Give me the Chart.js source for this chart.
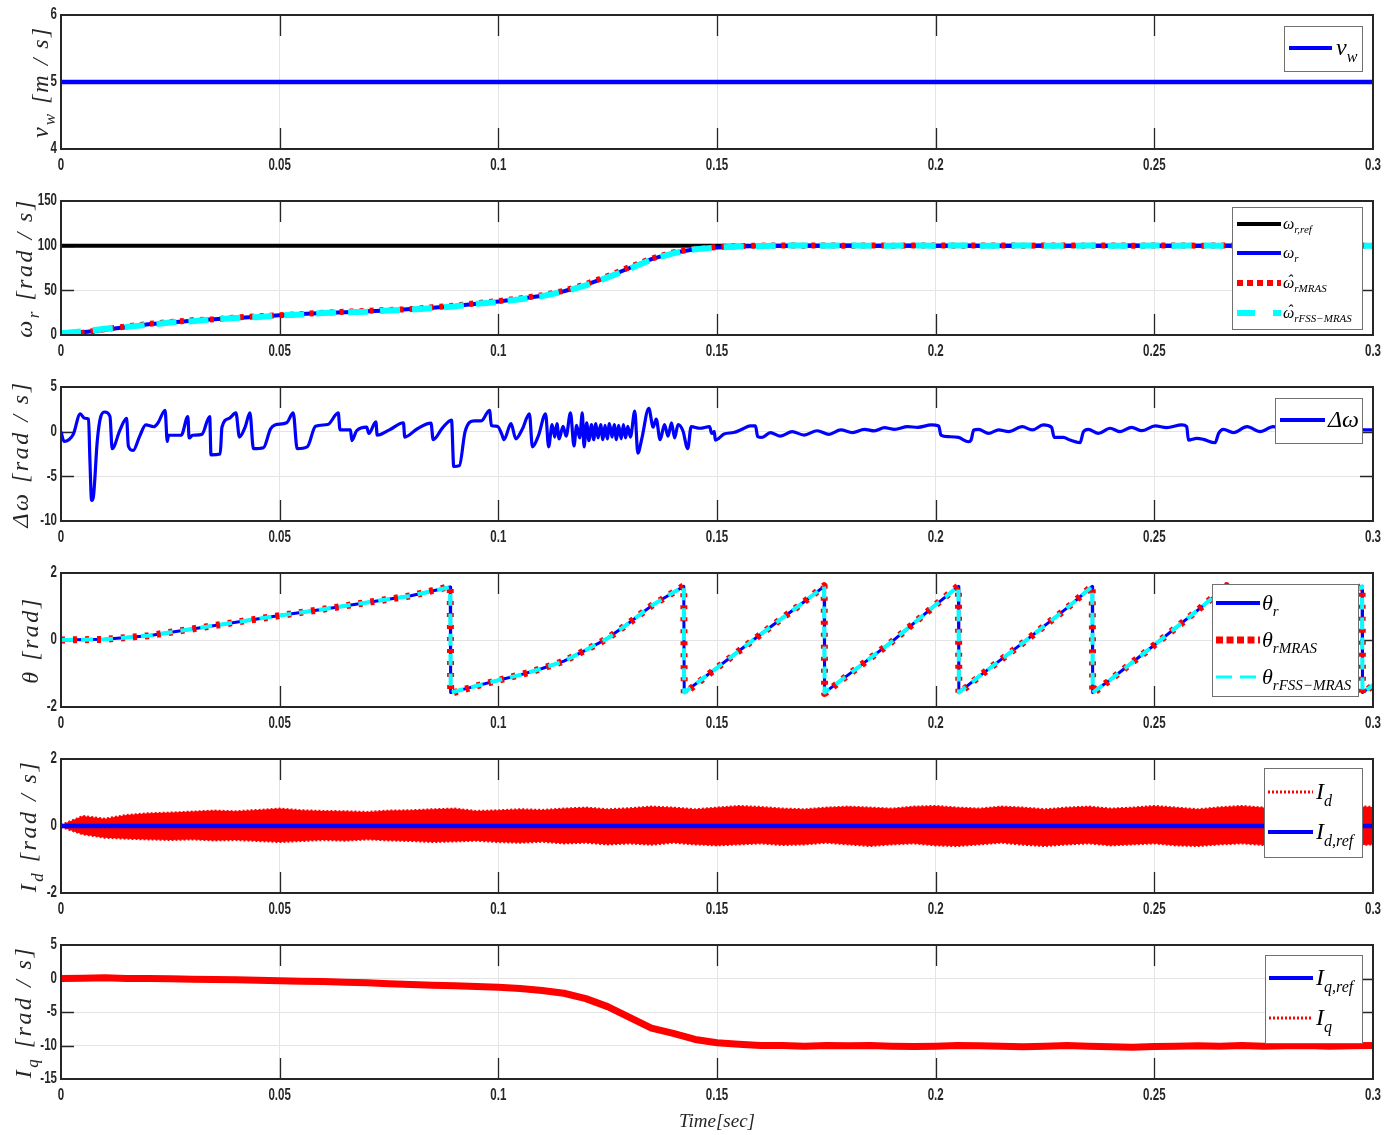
<!DOCTYPE html>
<html><head><meta charset="utf-8">
<script src="https://cdn.jsdelivr.net/npm/chart.js"></script>
<style>
html,body{margin:0;padding:0;background:#fff;}
#wrap{position:relative;width:1397px;height:1135px;overflow:hidden;background:#fff;}
#wrap canvas{position:absolute;left:0;}
</style></head><body>
<div id="wrap"></div>
<script>
// ---------------- DATA ----------------
const xTickValues = [0,0.05,0.1,0.15,0.2,0.25,0.3];
const xTickLabels = ['0','0.05','0.1','0.15','0.2','0.25','0.3'];

const timeGrid = [0,0.005,0.01,0.015,0.02,0.025,0.03,0.035,0.04,0.045,
  0.05,0.055,0.06,0.065,0.07,0.075,0.08,0.085,0.09,0.095,
  0.1,0.105,0.11,0.115,0.12,0.125,0.13,0.135,0.14,0.145,
  0.15,0.155,0.16,0.165,0.17,0.175,0.18,0.185,0.19,0.195,
  0.2,0.205,0.21,0.215,0.22,0.225,0.23,0.235,0.24,0.245,
  0.25,0.255,0.26,0.265,0.27,0.275,0.28,0.285,0.29,0.295,0.3];

// Panel 1: wind speed
const vwTime = [0, 0.3];
const vwValues = [5, 5];
const vwTicks = [4, 5, 6];

// Panel 2: rotor speed
const wRefTime = [0, 0.3];
const wRefValues = [100, 100];
const wR = [1,3,6,9,12,14,16,17.5,19,20.5,
  22,23.5,24.5,25.5,26.5,27.5,29,30.5,32.5,35,
  37.5,40.5,44,49,56,65,75,85,92,96,
  98,99,99.5,100,100.2,99.9,100.1,100,99.9,100.1,
  100,100.2,100,99.9,100,100.1,100,99.9,100,100.1,
  100,100,99.9,100.1,100,100,100.1,99.9,100,100,100];
const wMRAS = [-2,2.5,6.5,9.5,12.5,14.5,16.5,17.5,19.5,21,
  22,23.5,25,26,27,28,29,31,33,35.5,
  38,41,44.5,49.5,57,66,76,85.5,92.5,96.5,
  98.5,99.5,100,100.3,100,100.2,99.9,100.2,100,100.1,
  100.2,100,100.1,100.3,100,100.1,100.2,100,100.2,100,
  100.1,100.2,100,100.1,100.2,100,100.1,100.2,100,100.1,100];
const wFSS = [2,4,7,9,11.5,14,15.5,17.5,19,20,
  22,23,24.5,25.5,26,27.5,28.5,30,32,35,
  37,40,43.5,48.5,55.5,64.5,74,84.5,91.5,96,
  98,99,99.5,100,100.2,100,100.1,99.9,100,100.2,
  100,100.1,100,100,100.2,100,99.9,100.1,100,100,
  100.1,100,100.2,100,100,100.1,100,100.2,100,100.1,100];
const wTicks = [0, 50, 100, 150];

// Panel 3: speed error
const dwTime = [0,0.0007,0.0018,0.0028,0.0044,0.0054,0.0063,0.0066,0.007,0.0074,
  0.0083,0.0091,0.01,0.0112,0.0117,0.0135,0.015,0.0154,0.0165,0.018,
  0.0194,0.0212,0.0222,0.0238,0.0243,0.0246,0.0275,0.029,0.0293,0.0301,
  0.0322,0.034,0.0343,0.0364,0.0368,0.0385,0.04,0.0408,0.0421,0.0432,
  0.044,0.0463,0.0479,0.0489,0.0516,0.0531,0.054,0.0563,0.0582,0.061,
  0.0634,0.0638,0.0662,0.0665,0.0676,0.0699,0.0704,0.072,0.0723,0.0751,
  0.0783,0.0786,0.0814,0.0846,0.0851,0.0872,0.0893,0.0898,0.0911,0.0924,
  0.0945,0.0961,0.098,0.0984,0.0998,0.1008,0.1013,0.1029,0.104,0.1055,
  0.1071,0.1078,0.1092,0.1108,0.1115,0.1123,0.1129,0.1134,0.1139,0.1148,
  0.1155,0.1165,0.1173,0.1179,0.1186,0.1192,0.1196,0.1202,0.1207,0.1213,
  0.1218,0.1223,0.1228,0.1234,0.1239,0.1244,0.1249,0.1254,0.126,0.1265,
  0.127,0.1275,0.1281,0.1286,0.1291,0.1296,0.1302,0.1312,0.1319,0.1328,
  0.1344,0.1354,0.1361,0.137,0.138,0.1388,0.1396,0.1403,0.1411,0.1422,
  0.1433,
  0.1441,0.1461,0.1483,0.1488,0.1494,0.1496,0.1504,0.1516,0.1538,0.1557,
  0.1576,0.1588,0.1593,0.1603,0.1622,0.1645,0.1672,0.1699,0.1729,0.1756,
  0.1783,0.181,0.1837,0.186,0.1883,0.1906,0.1936,0.1959,0.199,0.2007,
  0.2012,0.2029,0.2052,0.2075,0.2081,0.2087,0.2098,0.2121,0.2144,0.2167,
  0.2198,0.2221,0.2246,0.2265,0.2271,0.2292,0.2307,0.233,0.2338,0.2349,
  0.2372,0.2399,0.2422,0.2448,0.2471,0.2502,0.2528,0.2563,0.2574,0.2578,
  0.2597,0.2612,0.2639,0.2647,0.2658,0.2681,0.2712,0.2742,0.2772,0.28,
  0.283,0.286,0.289,0.292,0.295,0.298,0.3];
const dwValues = [0,-1.1,-0.9,-0.3,2.0,1.5,1.4,-3,-7.7,-7.3,
  -1.0,1.7,2.2,1.7,-1.9,0.2,1.5,-1.6,-2.1,-0.5,
  0.75,0.55,1.0,2.4,-1.1,-0.4,-0.4,1.7,-0.7,-0.4,
  -0.3,1.7,-2.6,-2.5,0.5,1.5,2.1,-0.6,0.5,2.1,
  -1.9,-1.8,0.3,0.75,1.0,2.1,-1.9,-1.7,0.6,0.8,
  2.1,0.2,0.2,-1.0,0.1,0.5,-0.2,1.1,-0.4,0.2,
  1.0,-0.6,0.3,0.95,-0.9,0.4,1.3,-3.9,-3.8,0.0,
  1.2,1.2,2.4,0.7,0.6,-0.3,-0.9,0.9,-0.8,0.3,
  2.0,-1.7,-0.4,2.0,-1.7,0.8,-0.6,0.9,-0.8,0.6,
  -0.5,2.1,-1.6,0.7,-0.7,2.1,-1.7,1.0,-1.0,0.8,
  -0.9,0.9,-0.7,0.8,-0.9,0.7,-0.8,0.9,-0.6,0.8,
  -0.9,0.7,-0.8,0.8,-0.7,0.6,-0.6,2.3,-2.4,-0.8,
  2.6,0.5,1.4,-0.9,0.8,-0.5,1.0,-0.7,0.8,0.1,
  -1.9,
  0.56,0.38,0.56,-0.2,0.0,-0.94,-0.75,-0.26,-0.1,0.26,
  0.64,0.64,-0.56,-0.64,-0.1,-0.5,0.0,-0.38,0.1,-0.3,
  0.19,-0.1,0.26,0.08,0.45,0.26,0.56,0.49,0.75,0.64,
  -0.38,-0.56,-0.64,-1.13,-0.94,0.19,0.26,-0.19,0.19,0.0,
  0.56,0.19,0.75,0.49,-0.64,-0.64,-0.94,-1.24,0.0,0.26,
  -0.19,0.38,0.0,0.49,0.11,0.64,0.45,0.75,0.56,-0.94,
  -0.75,-0.86,-1.24,-0.19,0.26,-0.1,0.56,0.0,0.56,0.1,
  0.5,0.1,0.5,0.15,0.45,0.2,0.2];
const dwTicks = [-10, -5, 0, 5];

// Panel 4: rotor position
const thetaTime = [0,0.01,0.02,0.03,0.04,0.05,0.06,0.07,0.08,0.089,
  0.0891,0.095,0.1,0.105,0.11,0.115,0.12,0.125,0.13,0.135,
  0.14,0.1424,0.1425,0.15,0.16,0.17,0.1745,0.1746,0.18,0.19,
  0.2,0.2052,0.2053,0.21,0.22,0.23,0.2358,0.2359,0.24,0.25,
  0.26,0.2665,0.2666,0.27,0.28,0.29,0.2975,0.2976,0.3];
const thetaR = [0,0.02,0.13,0.33,0.53,0.73,0.92,1.12,1.32,1.58,
  -1.57,-1.37,-1.2,-1.04,-0.85,-0.63,-0.3,0.05,0.52,1.02,
  1.42,1.6,-1.57,-0.83,0.17,1.15,1.6,-1.57,-1.04,-0.05,
  1.05,1.6,-1.57,-1.08,-0.08,0.95,1.6,-1.57,-1.18,-0.15,
  0.9,1.6,-1.57,-1.2,-0.17,0.85,1.6,-1.57,-1.35];
const thetaMRAS = [0,0.02,0.13,0.33,0.53,0.73,0.92,1.12,1.32,1.6,
  -1.6,-1.37,-1.2,-1.04,-0.85,-0.63,-0.3,0.05,0.52,1.02,
  1.42,1.62,-1.6,-0.83,0.17,1.15,1.62,-1.6,-1.04,-0.05,
  1.05,1.62,-1.6,-1.08,-0.08,0.95,1.62,-1.6,-1.18,-0.15,
  0.9,1.62,-1.6,-1.2,-0.17,0.85,1.62,-1.6,-1.35];
const thetaFSS = [0,0.02,0.13,0.33,0.53,0.73,0.92,1.12,1.32,1.58,
  -1.57,-1.37,-1.2,-1.04,-0.85,-0.63,-0.3,0.05,0.52,1.02,
  1.42,1.6,-1.57,-0.83,0.17,1.15,1.6,-1.57,-1.04,-0.05,
  1.05,1.6,-1.57,-1.08,-0.08,0.95,1.6,-1.57,-1.18,-0.15,
  0.9,1.6,-1.57,-1.2,-0.17,0.85,1.6,-1.57,-1.35];
const thetaTicks = [-2, 0, 2];

// Panel 5: d-axis current (band envelope of the ripple)
const idRefTime = [0, 0.3];
const idRefValues = [0, 0];
const idUpper = [0.03,0.3,0.22,0.33,0.38,0.4,0.43,0.46,0.44,0.48,
  0.52,0.47,0.45,0.44,0.42,0.46,0.47,0.5,0.52,0.45,
  0.47,0.5,0.48,0.52,0.55,0.5,0.53,0.58,0.55,0.5,
  0.55,0.6,0.57,0.52,0.5,0.55,0.58,0.55,0.52,0.58,
  0.6,0.55,0.52,0.58,0.55,0.5,0.55,0.58,0.52,0.55,
  0.6,0.55,0.5,0.56,0.6,0.55,0.52,0.58,0.55,0.6,0.57];
const idLower = [-0.03,-0.25,-0.35,-0.38,-0.4,-0.42,-0.4,-0.43,-0.42,-0.45,
  -0.48,-0.45,-0.42,-0.44,-0.4,-0.43,-0.45,-0.48,-0.46,-0.44,
  -0.48,-0.5,-0.47,-0.52,-0.5,-0.55,-0.52,-0.56,-0.5,-0.55,
  -0.58,-0.55,-0.52,-0.57,-0.55,-0.5,-0.55,-0.6,-0.55,-0.52,
  -0.58,-0.6,-0.55,-0.5,-0.56,-0.6,-0.55,-0.52,-0.58,-0.55,
  -0.52,-0.58,-0.6,-0.55,-0.52,-0.57,-0.6,-0.55,-0.52,-0.58,-0.55];
const idTicks = [-2, 0, 2];

// Panel 6: q-axis current
const iqValues = [0,0.05,0.1,0,0,-0.05,-0.1,-0.15,-0.2,-0.25,
  -0.35,-0.4,-0.45,-0.55,-0.65,-0.8,-0.9,-1.0,-1.1,-1.2,
  -1.3,-1.5,-1.8,-2.2,-3.0,-4.2,-5.8,-7.4,-8.2,-9.1,
  -9.6,-9.8,-10,-10,-10.1,-10,-10.05,-10,-10.1,-10.15,
  -10.1,-10,-10.05,-10.1,-10.2,-10.1,-10,-10.1,-10.2,-10.25,
  -10.15,-10.1,-10.05,-10.1,-10,-10.1,-10.05,-10,-10.1,-10.05,-10];
const iqRefValues = [0,0,0,0,0,-0.05,-0.1,-0.15,-0.2,-0.25,
  -0.35,-0.4,-0.45,-0.55,-0.65,-0.8,-0.9,-1.0,-1.1,-1.2,
  -1.3,-1.5,-1.8,-2.2,-3.0,-4.2,-5.8,-7.4,-8.2,-9.1,
  -9.6,-9.8,-10,-10,-10.1,-10,-10.05,-10,-10.1,-10.15,
  -10.1,-10,-10.05,-10.1,-10.2,-10.1,-10,-10.1,-10.2,-10.25,
  -10.15,-10.1,-10.05,-10.1,-10,-10.1,-10.05,-10,-10.1,-10.05,-10];
const iqTicks = [-15, -10, -5, 0, 5];

// ---------------- STYLE / LAYOUT ----------------
const BLUE = '#0000ff', RED = '#ff0000', CYAN = '#00ffff', BLACK = '#000000';
const TICKFONT = "bold 16px 'Liberation Sans','Arial',sans-serif";
const TICK_SQUEEZE = 0.72;
const MATHFONT = "'Liberation Serif','DejaVu Serif',serif";
const plotTops = [15, 201, 387, 573, 759, 945];
const PAD_TOP = 12, PLOT_H = 134;

function pts(xs, ys) { return xs.map((x, i) => ({ x: x, y: ys[i] })); }

function drawRich(ctx, x, y, segs, size, subSize, align) {
  const widths = segs.map(s => { ctx.font = 'italic ' + (s[1] ? subSize : size) + 'px ' + MATHFONT; return ctx.measureText(s[0]).width; });
  const total = widths.reduce((a, b) => a + b, 0);
  let cx = align === 'center' ? x - total / 2 : x;
  ctx.textAlign = 'left';
  ctx.textBaseline = 'alphabetic';
  segs.forEach((s, i) => {
    const sz = s[1] ? subSize : size;
    ctx.font = 'italic ' + sz + 'px ' + MATHFONT;
    ctx.fillText(s[0], cx, y + (s[1] ? size * 0.28 : 0));
    if (s[2] === 'hat') {
      const hw = ctx.measureText('\u02C6').width;
      ctx.fillText('\u02C6', cx + widths[i] / 2 - hw / 2 + sz * 0.08, y - sz * 0.12);
    }
    cx += widths[i];
  });
}

function squeezedText(ctx, text, x, y, align) {
  ctx.save();
  ctx.font = TICKFONT;
  ctx.textBaseline = 'middle';
  ctx.textAlign = align;
  ctx.translate(x, y);
  ctx.scale(TICK_SQUEEZE, 1);
  ctx.fillText(text, 0, 0);
  ctx.restore();
}

function decor(cfg, canvasTop) {
  return {
    id: 'decor',
    beforeDatasetsDraw(chart) {
      const { ctx, chartArea: a, scales: { x, y } } = chart;
      ctx.save();
      ctx.strokeStyle = '#262626'; ctx.lineWidth = 1.3;
      ctx.beginPath();
      x.ticks.forEach(t => {
        const px = Math.round(x.getPixelForValue(t.value)) + 0.5;
        if (px <= a.left + 2 || px >= a.right - 2) return;
        ctx.moveTo(px, a.top); ctx.lineTo(px, a.top + 21);
        ctx.moveTo(px, a.bottom); ctx.lineTo(px, a.bottom - 21);
      });
      y.ticks.forEach(t => {
        const py = Math.round(y.getPixelForValue(t.value)) + 0.5;
        if (py <= a.top + 2 || py >= a.bottom - 2) return;
        ctx.moveTo(a.left, py); ctx.lineTo(a.left + 13, py);
        ctx.moveTo(a.right, py); ctx.lineTo(a.right - 13, py);
      });
      ctx.stroke();
      ctx.restore();
    },
    afterDatasetsDraw(chart) {
      const { ctx, chartArea: a } = chart;
      ctx.save();
      ctx.strokeStyle = '#262626'; ctx.lineWidth = 2;
      ctx.strokeRect(a.left, a.top, a.right - a.left, a.bottom - a.top);
      const L = cfg.legend;
      const ly = L.y - canvasTop;
      ctx.fillStyle = '#ffffff';
      ctx.fillRect(L.x, ly, L.w, L.h);
      ctx.strokeStyle = '#707070'; ctx.lineWidth = 1;
      ctx.strokeRect(L.x + 0.5, ly + 0.5, L.w, L.h);
      L.items.forEach(it => {
        const iy = it.y - canvasTop;
        ctx.save();
        ctx.beginPath();
        ctx.strokeStyle = it.color; ctx.lineWidth = it.lw; ctx.lineCap = 'butt';
        ctx.setLineDash(it.dash || []);
        ctx.moveTo(L.lx1, iy); ctx.lineTo(L.lx2, iy); ctx.stroke();
        ctx.restore();
        ctx.fillStyle = '#000';
        drawRich(ctx, L.tx, iy + L.size * 0.3, it.text, L.size, L.sub, 'left');
      });
      ctx.restore();
    },
    afterDraw(chart) {
      const { ctx, chartArea: a, scales: { x, y } } = chart;
      // tick labels (narrow bold, MATLAB-like)
      ctx.save();
      ctx.fillStyle = '#262626';
      x.ticks.forEach((t, i) => squeezedText(ctx, xTickLabels[i], x.getPixelForValue(t.value), a.bottom + 17, 'center'));
      y.ticks.forEach(t => squeezedText(ctx, String(t.value), a.left - 4, y.getPixelForValue(t.value), 'right'));
      ctx.restore();
      // rotated y-axis title
      const Y = cfg.ylabel;
      ctx.save();
      ctx.translate(Y.x, (a.top + a.bottom) / 2);
      ctx.rotate(-Math.PI / 2);
      ctx.fillStyle = '#262626';
      if ('letterSpacing' in ctx) ctx.letterSpacing = Y.spacing + 'px';
      drawRich(ctx, 0, Y.size * 0.33, Y.text, Y.size, Math.round(Y.size * 0.7), 'center');
      ctx.restore();
    }
  };
}

function makePanel(idx, datasets, yMin, yMax, yTicks, cfg, isLast) {
  const top = plotTops[idx] - PAD_TOP;
  const H = isLast ? 1135 - top : 186;
  const cv = document.createElement('canvas');
  cv.width = 1397; cv.height = H;
  cv.style.top = top + 'px';
  cv.style.width = '1397px'; cv.style.height = H + 'px';
  document.getElementById('wrap').appendChild(cv);
  new Chart(cv.getContext('2d'), {
    type: 'line',
    data: { datasets: datasets },
    options: {
      responsive: false, maintainAspectRatio: false, animation: false,
      devicePixelRatio: 1,
      layout: { padding: { top: PAD_TOP, right: 24, left: 0, bottom: 0 } },
      elements: { point: { radius: 0 }, line: { tension: 0, borderCapStyle: 'butt', borderJoinStyle: 'round' } },
      plugins: { legend: { display: false }, tooltip: { enabled: false } },
      scales: {
        x: {
          type: 'linear', min: 0, max: 0.3,
          afterBuildTicks: s => { s.ticks = xTickValues.map(v => ({ value: v })); },
          afterFit: s => { s.height = H - PAD_TOP - PLOT_H; },
          grid: { color: '#e4e4e4', lineWidth: 1, drawTicks: false },
          border: { display: false },
          ticks: { display: false },
          title: { display: !!isLast, text: 'Time[sec]', color: '#262626',
            font: { family: MATHFONT, size: 19, style: 'italic' }, padding: { top: 0, bottom: 2 } }
        },
        y: {
          type: 'linear', min: yMin, max: yMax,
          afterBuildTicks: s => { s.ticks = yTicks.map(v => ({ value: v })); },
          afterFit: s => { s.width = 61; },
          grid: { color: '#e4e4e4', lineWidth: 1, drawTicks: false },
          border: { display: false },
          ticks: { display: false }
        }
      }
    },
    plugins: [decor(cfg, top)]
  });
}

// ---------------- PANELS ----------------
makePanel(0, [
  { data: pts(vwTime, vwValues), borderColor: BLUE, borderWidth: 4.5 }
], 4, 6, vwTicks, {
  ylabel: { x: 40, size: 24, spacing: 2, text: [['v', 0], ['w', 1], [' [m / s]', 0]] },
  legend: { x: 1284, y: 26, w: 78, h: 45, lx1: 1289, lx2: 1332, tx: 1336, size: 24, sub: 16,
    items: [{ y: 48, color: BLUE, lw: 4, text: [['v', 0], ['w', 1]] }] }
});

makePanel(1, [
  { data: pts(timeGrid, wFSS), borderColor: CYAN, borderWidth: 6, borderDash: [20, 12] },
  { data: pts(timeGrid, wMRAS), borderColor: RED, borderWidth: 6, borderDash: [4, 6] },
  { data: pts(timeGrid, wR), borderColor: BLUE, borderWidth: 4 },
  { data: pts(wRefTime, wRefValues), borderColor: BLACK, borderWidth: 4 }
], 0, 150, wTicks, {
  ylabel: { x: 24, size: 24, spacing: 2.5, text: [['ω', 0], ['r', 1], [' [rad / s]', 0]] },
  legend: { x: 1232, y: 207, w: 130, h: 122, lx1: 1237, lx2: 1281, tx: 1283, size: 16, sub: 11,
    items: [
      { y: 224, color: BLACK, lw: 4, text: [['ω', 0], ['r,ref', 1]] },
      { y: 253, color: BLUE, lw: 4, text: [['ω', 0], ['r', 1]] },
      { y: 283, color: RED, lw: 6, dash: [6, 4], text: [['ω', 0, 'hat'], ['rMRAS', 1]] },
      { y: 313, color: CYAN, lw: 6, dash: [18, 18], text: [['ω', 0, 'hat'], ['rFSS\u2212MRAS', 1]] }
    ] }
});

makePanel(2, [
  { data: pts(dwTime, dwValues), borderColor: BLUE, borderWidth: 3.2, cubicInterpolationMode: 'monotone' }
], -10, 5, dwTicks, {
  ylabel: { x: 20, size: 24, spacing: 2.5, text: [['Δω [rad / s]', 0]] },
  legend: { x: 1275, y: 398, w: 87, h: 45, lx1: 1280, lx2: 1325, tx: 1328, size: 24, sub: 16,
    items: [{ y: 420, color: BLUE, lw: 4, text: [['Δω', 0]] }] }
});

makePanel(3, [
  { data: pts(thetaTime, thetaFSS), borderColor: CYAN, borderWidth: 4, borderDash: [12, 8] },
  { data: pts(thetaTime, thetaMRAS), borderColor: RED, borderWidth: 7, borderDash: [4, 8] },
  { data: pts(thetaTime, thetaR), borderColor: BLUE, borderWidth: 3 }
], -2, 2, thetaTicks, {
  ylabel: { x: 30, size: 24, spacing: 2.5, text: [['θ [rad]', 0]] },
  legend: { x: 1212, y: 584, w: 146, h: 112, lx1: 1216, lx2: 1260, tx: 1262, size: 22, sub: 15,
    items: [
      { y: 603, color: BLUE, lw: 4, text: [['θ', 0], ['r', 1]] },
      { y: 640, color: RED, lw: 7, dash: [7, 3.5], text: [['θ', 0], ['rMRAS', 1]] },
      { y: 677, color: CYAN, lw: 3, dash: [16, 8], text: [['θ', 0], ['rFSS\u2212MRAS', 1]] }
    ] }
});

makePanel(4, [
  { data: pts(idRefTime, idRefValues), borderColor: BLUE, borderWidth: 4.5 },
  { data: pts(timeGrid, idUpper), borderColor: RED, borderWidth: 2, borderDash: [2, 2], fill: '+1', backgroundColor: RED },
  { data: pts(timeGrid, idLower), borderColor: RED, borderWidth: 2, borderDash: [2, 2] }
], -2, 2, idTicks, {
  ylabel: { x: 28, size: 24, spacing: 2.5, text: [['I', 0], ['d', 1], [' [rad / s]', 0]] },
  legend: { x: 1264, y: 768, w: 98, h: 89, lx1: 1268, lx2: 1313, tx: 1316, size: 24, sub: 16,
    items: [
      { y: 792, color: RED, lw: 3, dash: [2, 2], text: [['I', 0], ['d', 1]] },
      { y: 832, color: BLUE, lw: 4, text: [['I', 0], ['d,ref', 1]] }
    ] }
});

makePanel(5, [
  { data: pts(timeGrid, iqValues), borderColor: RED, borderWidth: 7 },
  { data: pts(timeGrid, iqRefValues), borderColor: BLUE, borderWidth: 4 }
], -15, 5, iqTicks, {
  ylabel: { x: 23, size: 24, spacing: 2.5, text: [['I', 0], ['q', 1], [' [rad / s]', 0]] },
  legend: { x: 1265, y: 955, w: 97, h: 88, lx1: 1269, lx2: 1313, tx: 1316, size: 24, sub: 16,
    items: [
      { y: 978, color: BLUE, lw: 4, text: [['I', 0], ['q,ref', 1]] },
      { y: 1018, color: RED, lw: 3, dash: [2, 2], text: [['I', 0], ['q', 1]] }
    ] }
}, true);
</script>
</body></html>
